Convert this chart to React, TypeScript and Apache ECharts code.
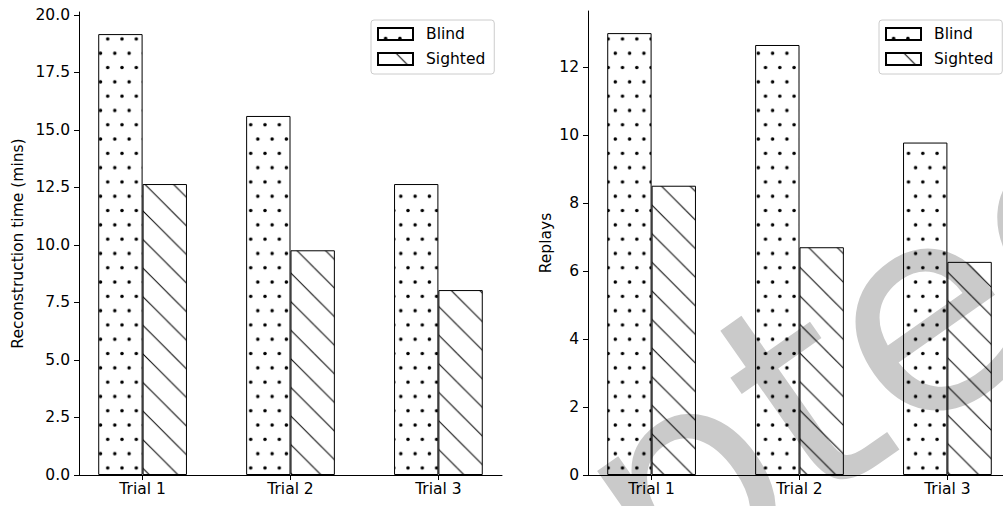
import React, { useEffect, useRef } from 'react';
import * as echarts from 'echarts';

const trials = ['Trial 1', 'Trial 2', 'Trial 3'];
const groupNames = ['Blind', 'Sighted'];
const timeBlind = [19.17, 15.61, 12.65];
const timeSighted = [12.65, 9.77, 8.04];
const replaysBlind = [13.0, 12.65, 9.78];
const replaysSighted = [8.51, 6.7, 6.27];
const timeTicks = [0, 2.5, 5, 7.5, 10, 12.5, 15, 17.5, 20];
const replayTicks = [0, 2, 4, 6, 8, 10, 12];
const trialPositions = [0, 1, 2];

const FONT = '"DejaVu Sans", sans-serif';
const FS = 15.5;

// vector patterns (SVG vnode) aligned to the page grid
function makeDots() {
  const W = 14.3;
  const H = 28.6;
  const pts = [
    [7.6, 10.4],
    [0.45, 24.7],
  ];
  const children: any[] = [];
  let n = 0;
  for (const [x, y] of pts) {
    for (const dx of [-W, 0, W]) {
      for (const dy of [-H, 0, H]) {
        children.push({
          tag: 'circle',
          key: 'dot' + n++,
          attrs: { cx: x + dx, cy: y + dy, r: 1.75, fill: '#000' },
        });
      }
    }
  }
  return {
    svgElement: { tag: 'g', key: 'dotsg', attrs: {}, children },
    svgWidth: W,
    svgHeight: H,
  };
}

function makeHatch() {
  const T = 28.6;
  const c = 10.8;
  const children: any[] = [];
  for (let k = -2; k <= 1; k++) {
    const off = c + k * T;
    children.push({
      tag: 'line',
      key: 'hl' + (k + 2),
      attrs: { x1: -5, y1: -5 + off, x2: T + 5, y2: T + 5 + off, stroke: '#000', 'stroke-width': 1 },
    });
  }
  return {
    svgElement: { tag: 'g', key: 'hatchg', attrs: {}, children },
    svgWidth: T,
    svgHeight: T,
  };
}

export default function App() {
  const ref = useRef<HTMLDivElement>(null);
  useEffect(() => {
    if (!ref.current) return;
    const chart = echarts.init(ref.current, null, { renderer: 'svg' });
    const dots = makeDots();
    const hatch = makeHatch();
    const textStyle = { color: '#000', fontFamily: FONT, fontSize: FS };

    const xAxis = (gridIndex: number) => ({
      type: 'value',
      gridIndex,
      min: -0.43,
      max: 2.43,
      axisLine: { show: true, onZero: false, lineStyle: { color: '#000', width: 1 } },
      axisTick: { show: true, customValues: trialPositions, length: 5, lineStyle: { color: '#000', width: 1 } },
      axisLabel: {
        show: true,
        customValues: trialPositions,
        formatter: (v: number) => trials[Math.round(v)],
        margin: 6,
        ...textStyle,
      },
      splitLine: { show: false },
    });

    const yAxis = (gridIndex: number, max: number, ticks: number[], name: string, nameGap: number, fmt: (v: number) => string) => ({
      type: 'value',
      gridIndex,
      min: 0,
      max,
      name,
      nameLocation: 'middle',
      nameGap,
      nameTextStyle: { ...textStyle },
      axisLine: { show: true, onZero: false, lineStyle: { color: '#000', width: 1 } },
      axisTick: { show: true, customValues: ticks, length: 5, lineStyle: { color: '#000', width: 1 } },
      axisLabel: { show: true, customValues: ticks, formatter: fmt, margin: 9, ...textStyle },
      splitLine: { show: false },
    });

    const barSeries = (name: string, idx: number, values: number[], pattern: any) => ({
      type: 'bar',
      name,
      xAxisIndex: idx,
      yAxisIndex: idx,
      data: values.map((v, i) => [trialPositions[i], v]),
      barWidth: '30%',
      barGap: '0%',
      itemStyle: { color: pattern, borderColor: '#000', borderWidth: 1 },
      emphasis: { disabled: true },
    });

    const legend = (left: number) => ({
      data: groupNames,
      orient: 'vertical',
      left,
      top: 20,
      icon: 'rect',
      itemWidth: 35,
      itemHeight: 12,
      itemGap: 9,
      padding: [6, 9, 7, 6],
      borderColor: '#cccccc',
      borderWidth: 1,
      borderRadius: 3,
      backgroundColor: 'rgba(255,255,255,0.8)',
      textStyle: { ...textStyle, padding: [0, 0, 0, 8] },
      selectedMode: false,
    });

    chart.setOption({
      animation: false,
      grid: [
        { left: 79, top: 12, width: 423, height: 463, outerBoundsMode: 'none', containLabel: false },
        { left: 588, top: 11, width: 423, height: 464, outerBoundsMode: 'none', containLabel: false },
      ],
      xAxis: [xAxis(0), xAxis(1)],
      yAxis: [
        yAxis(0, 20.13, timeTicks, 'Reconstruction time (mins)', 53, (v: number) => v.toFixed(1)),
        yAxis(1, 13.65, replayTicks, 'Replays', 34, (v: number) => String(Math.round(v))),
      ],
      legend: [legend(371), legend(879)],
      graphic: [
        {
          type: 'text',
          x: 1140,
          y: 160,
          rotation: (35 * Math.PI) / 180,
          z: -10,
          silent: true,
          style: {
            text: 'Accepted',
            font: '285px "DejaVu Sans", sans-serif',
            fill: '#cacaca',
            textAlign: 'right',
            textVerticalAlign: 'middle',
          },
        },
      ],
      series: [
        barSeries(groupNames[0], 0, timeBlind, dots),
        barSeries(groupNames[1], 0, timeSighted, hatch),
        barSeries(groupNames[0], 1, replaysBlind, dots),
        barSeries(groupNames[1], 1, replaysSighted, hatch),
      ],
    });
    return () => chart.dispose();
  }, []);
  return (
    <div
      ref={ref}
      style={{ position: 'absolute', left: 0, top: 0, width: 1003, height: 506, background: '#fff' }}
    />
  );
}
